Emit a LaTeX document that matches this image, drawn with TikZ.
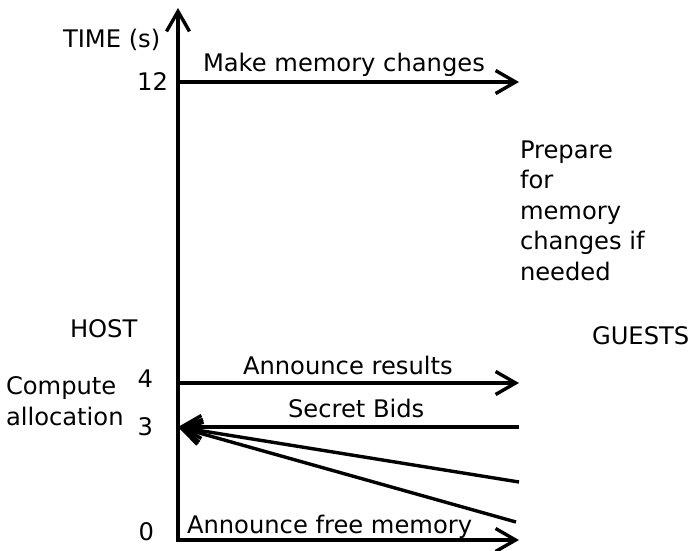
\documentclass[tikz,border=0pt]{standalone}
\usepackage{fontspec}
\setmainfont{DejaVu Sans}
\usetikzlibrary{arrows.meta}
\begin{document}
\begin{tikzpicture}[x=1pt,y=-1pt,
  every node/.style={inner sep=0pt,outer sep=0pt,font=\fontsize{24.2}{30.4}\selectfont},
  barb/.tip={Straight Barb[length=20pt,width=23pt,line width=3.4pt]},
  msg/.style={line width=3.4pt,-barb},
  axis/.style={line width=3.4pt,miter limit=10,barb-barb}]
\useasboundingbox (0,0) rectangle (691,550);

% time axis and host baseline
\coordinate (top) at (178,8);
\coordinate (origin) at (178,540);
\coordinate (right) at (519,540);
\draw[axis] (top) -- (origin) -- (right);

% tick points on the time axis
\coordinate (t12) at (178,82);
\coordinate (t4) at (178,383);
\coordinate (t3) at (178,427);

% guest-side end points
\coordinate (g12) at (519,82);
\coordinate (g4) at (519,383);
\coordinate (gb1) at (519,427);
\coordinate (gb2) at (519,482);
\coordinate (gb3) at (516,522);

% messages
\draw[msg] (t12) -- (g12);
\draw[msg] (t4) -- (g4);
\draw[msg] (gb1) -- (t3);
\draw[msg] (gb2) -- (t3);
\draw[msg] (gb3) -- (t3);

% axis labels
\node[anchor=base west] (timelbl) at (63,47) {TIME (s)};
\node[anchor=base east] (n12) at (168,90) {12};
\node[anchor=base east] (n4) at (153,387) {4};
\node[anchor=base east] (n3) at (153,435) {3};
\node[anchor=base east] (n0) at (154,540) {0};

% message labels
\node[anchor=base west] (l12) at (203,71) {Make memory changes};
\node[anchor=base west] (l4) at (243,374) {Announce results};
\node[anchor=base west] (lb) at (288,417) {Secret Bids};
\node[anchor=base west] (l0) at (187,533) {Announce free memory};

% side labels (base of a multi-line node is its last line)
\node[anchor=base west] (host) at (70,337) {HOST};
\node[anchor=base west] (guests) at (592,344) {GUESTS};
\node[anchor=base west,align=left] (compute) at (6,425) {Compute\\allocation};
\node[anchor=base west,align=left] (prepare) at (520,280) {Prepare\\for\\memory\\changes if\\needed};
\end{tikzpicture}
\end{document}
